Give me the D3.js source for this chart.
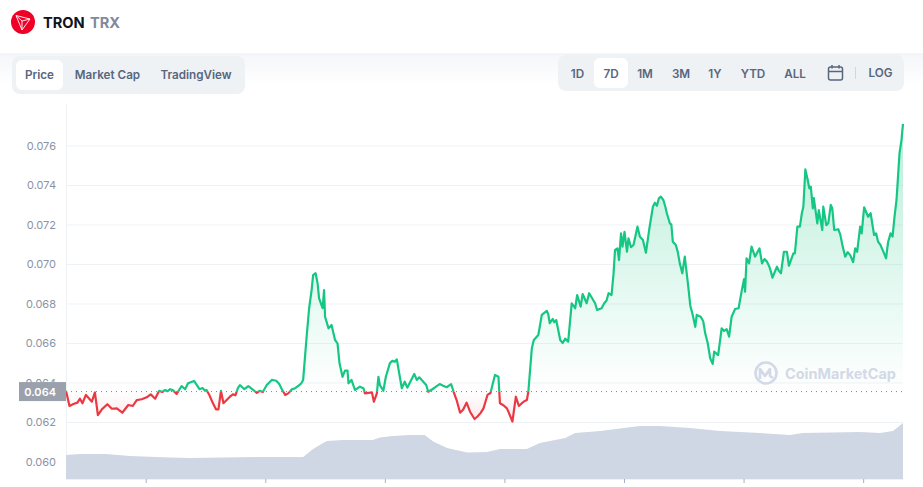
<!DOCTYPE html>
<html>
<head>
<meta charset="utf-8">
<title>TRON TRX</title>
<script src="https://cdn.jsdelivr.net/npm/d3@7"></script>
<style>
    html, body { margin: 0; padding: 0; background: #fff; overflow: hidden; }
    svg { display: block; font-family: Inter, "Noto Sans", sans-serif; }
    .btn { font-size: 11.7px; font-weight: 600; fill: #58667e; text-anchor: middle; }
    .axis text { font-size: 11px; fill: #8a93a6; font-family: Inter, sans-serif; }
    .axis .domain { stroke: #eff2f5; }
</style>
</head>
<body>
<svg id="chart" width="923" height="487"></svg>
<script>
// hours since the start of the 7 day window
const priceHours = [0,0.7,1.5,2.3,2.8,3.3,4,5.2,5.8,6.4,7.2,8.3,9.2,10.2,11.3,12.5,13.4,14.2,15.2,16.2,17,17.9,18.7,20.9,22.2,23.2,23.9,24.5,25.7,26.8,28.2,30.1,30.6,31.1,31.6,32.9,34.9,35.8,36.6,38.3,40.3,41.3,42.2,44,46,47.6,48.3,48.8,49.3,49.6,50.1,50.5,50.8,51.5,51.8,52,52.7,53.3,54,54.5,54.9,55.5,56,56.5,56.7,57.3,58,59,59.7,60,61.4,61.8,62.4,62.7,63,63.7,64.2,65,66.4,67.4,68,68.5,69.9,70.4,70.9,72.3,72.7,74.4,75.7,76.4,77.3,77.8,78.4,79.1,80.4,81.1,82,83.8,84.6,85.2,86.1,86.8,87.1,88.5,89.6,90.3,90.9,92.5,92.8,93.5,93.9,94.8,95.5,96.5,97.1,98.4,99.2,100.8,101.5,102.2,102.6,103.3,103.7,104.5,105,106.2,106.6,107.5,108.9,109.5,110.2,110.7,111,111.4,111.7,112.1,112.6,112.9,113.9,114.7,115.2,115.8,116.4,117.1,117.8,118.2,119.4,119.9,120.6,121.2,121.8,122.4,123.2,123.7,124.2,124.9,125.8,126.3,126.6,127.4,128.3,129.3,129.8,130.1,130.9,131.6,132.1,133.1,133.6,134.3,135,135.6,136.1,136.3,136.6,137.1,137.6,138.3,139.2,139.7,140.7,141.8,142.7,143.5,144.1,144.7,145.1,146,146.3,146.8,147.3,147.7,148,148.4,148.8,149.2,149.5,149.9,150.1,150.8,151.1,151.8,152,152.6,153,153.5,153.8,154.2,155,155.9,156.4,158,158.4,158.8,159.4,159.7,160.2,161,161.5,162.2,163,164.6,165.5,165.9,166.7,167.3,167.7,168];
const priceValues = [0.06358,0.06281,0.06291,0.06298,0.06318,0.06295,0.06337,0.06303,0.0635,0.06235,0.06264,0.0629,0.06267,0.06269,0.06247,0.06286,0.06281,0.06311,0.06315,0.06325,0.0634,0.06318,0.06358,0.06366,0.06342,0.06382,0.06366,0.06396,0.06408,0.06366,0.06362,0.06264,0.06264,0.06358,0.06295,0.06328,0.06387,0.06366,0.06382,0.06348,0.06387,0.06413,0.06409,0.06337,0.06371,0.06413,0.06632,0.06776,0.06868,0.06944,0.06953,0.06902,0.06826,0.06776,0.06868,0.06733,0.06674,0.06691,0.06615,0.06598,0.06497,0.06429,0.0646,0.0646,0.06396,0.06413,0.06362,0.06379,0.06371,0.06345,0.0635,0.06303,0.06345,0.06429,0.06387,0.06358,0.06429,0.06497,0.06517,0.06371,0.06404,0.06374,0.06443,0.06413,0.06426,0.06387,0.06353,0.06382,0.06384,0.06376,0.06392,0.06353,0.06311,0.06247,0.06298,0.06252,0.06215,0.06269,0.06337,0.06347,0.06438,0.06429,0.06295,0.06269,0.06202,0.06328,0.06281,0.06311,0.06353,0.06573,0.06615,0.0664,0.06742,0.06763,0.067,0.06716,0.06615,0.06607,0.06801,0.06776,0.06843,0.06784,0.06848,0.06801,0.06852,0.06801,0.06767,0.06776,0.06852,0.06843,0.07071,0.07079,0.0702,0.07155,0.07088,0.07163,0.07062,0.0713,0.07096,0.07189,0.07138,0.07121,0.07057,0.07181,0.0729,0.0731,0.07341,0.07324,0.07257,0.07206,0.07113,0.07096,0.07003,0.06953,0.07037,0.06885,0.06742,0.06682,0.06742,0.06733,0.06649,0.06523,0.06494,0.06556,0.06539,0.06674,0.06661,0.06632,0.06733,0.06772,0.06776,0.0686,0.06924,0.0686,0.07029,0.07003,0.07088,0.07037,0.07079,0.07003,0.07012,0.06931,0.06986,0.06953,0.07062,0.07062,0.06991,0.07054,0.07054,0.07189,0.07189,0.07257,0.0729,0.07479,0.07434,0.07383,0.07391,0.07282,0.07333,0.07206,0.07273,0.07172,0.0729,0.07197,0.07206,0.07299,0.07282,0.07172,0.07176,0.07088,0.07037,0.07009,0.07079,0.07062,0.07189,0.07155,0.07287,0.07239,0.07257,0.07147,0.07113,0.07029,0.07155,0.07139,0.07324,0.0756,0.07628,0.07709];
// smaller wiggles, merged into the main trace below
const wiggleHours = [19.3,19.9,20.4,21.5,27.4,27.9,28.8,29.4,33.5,34,34.5,38.9,39.5,42.8,43.4,44.6,45.3,46.7,47.2,65.5,66,73.3,73.9,75,79.7,82.6,83.2,87.8,89,91.5,92,96.8,97.7,98,99.7,100.2,108,108.5,109.9,113.4,118.6,119,120.3,121.5,122.8,125.3,127.9,128.8,132.6,140.2,141.2,141.5,143.1,155.4,156.9,157.4,162.6,163.5,164.1,165,166.3];
const wiggleValues = [0.06352,0.06362,0.06356,0.0636,0.06372,0.06358,0.06335,0.063,0.0634,0.06335,0.06372,0.06358,0.06352,0.06392,0.06362,0.06345,0.06365,0.06384,0.06395,0.0651,0.06505,0.06362,0.06372,0.06392,0.06262,0.06228,0.06245,0.06285,0.0624,0.06295,0.06305,0.06745,0.06722,0.06705,0.066,0.06622,0.068,0.06815,0.0695,0.07085,0.07295,0.07332,0.0729,0.072,0.0706,0.0679,0.0671,0.066,0.0667,0.07025,0.06985,0.0696,0.06965,0.0715,0.0706,0.07045,0.07155,0.07095,0.0706,0.0711,0.0724];
const volumeHours = [0,2.8,8,12.8,20.9,24.9,38.9,47.6,49.6,51.6,52.4,55.6,61.6,63,65.6,69,72,73.7,76.5,80.5,84.5,87.1,92.5,95.1,100.2,102.2,107.2,115.2,119.2,125.2,131.3,139.3,145.3,147.9,159.4,163.4,166,168];
const volumeValues = [1.2,1.25,1.25,1.15,1.08,1.05,1.1,1.1,1.5,1.8,1.9,1.95,1.95,2.07,2.15,2.2,2.2,1.87,1.55,1.32,1.35,1.5,1.5,1.8,2.05,2.3,2.4,2.65,2.65,2.55,2.4,2.3,2.2,2.3,2.35,2.3,2.4,2.8];
const priceTicks = [0.06,0.062,0.064,0.066,0.068,0.07,0.072,0.074,0.076];
const hourTicks = [16,40,64,88,112,136,160];
const basePrice = 0.06354;
const baseLabel = '0.064';
const tabLabels = ['Price','Market Cap','TradingView'];
const rangeLabels = ['1D','7D','1M','3M','1Y','YTD','ALL'];

const GREEN = '#16c784', RED = '#ea3943';
const plotLeft = 66, plotRight = 903, plotTop = 104, plotBottom = 479;

const priceData = d3.zip(priceHours, priceValues)
    .concat(d3.zip(wiggleHours, wiggleValues))
    .sort((a, b) => d3.ascending(a[0], b[0]));

const svg = d3.select('#chart');
const defs = svg.append('defs');

const x = d3.scaleLinear().domain([0, 168]).range([plotLeft, plotRight]);
const y = d3.scaleLinear().domain([0.059114, 0.0781]).range([plotBottom, plotTop]);
const yVol = d3.scaleLinear().domain([0, 2.85]).range([plotBottom, 422]);
const baseY = y(basePrice);
const maxY = y(d3.max(priceValues));
const minY = y(d3.min(priceValues));
const splitAt = (baseY - maxY) / (minY - maxY);

// --- header ---
const headFade = defs.append('linearGradient').attr('id', 'headFade').attr('x1', 0).attr('x2', 0).attr('y1', 0).attr('y2', 1);
headFade.append('stop').attr('offset', 0).attr('stop-color', '#f4f6f9');
headFade.append('stop').attr('offset', 1).attr('stop-color', '#fff');
svg.append('rect').attr('x', 0).attr('y', 54).attr('width', 923).attr('height', 30).attr('fill', 'url(#headFade)');
svg.append('rect').attr('x', 0).attr('y', 53.5).attr('width', 923).attr('height', 1).attr('fill', '#eceff3');

const logo = svg.append('g').attr('transform', 'translate(23,22)');
logo.append('circle').attr('r', 12).attr('fill', '#ef0027');
logo.append('path').attr('d', 'M-7,-6.5 L7,-3 L-1,8 Z M-7,-6.5 L-1,-1 L-1,8 M-1,-1 L7,-3')
    .attr('fill', 'none').attr('stroke', '#fff').attr('stroke-width', 0.9).attr('stroke-linejoin', 'round');
svg.append('text').attr('x', 43).attr('y', 27.5).attr('font-size', 14.6).attr('font-weight', 700).attr('fill', '#0d1421').text('TRON');
svg.append('text').attr('x', 90).attr('y', 27.5).attr('font-size', 14.6).attr('font-weight', 700).attr('fill', '#808a9d').text('TRX');

// --- buttons ---
svg.append('rect').attr('x', 12).attr('y', 56).attr('width', 233).attr('height', 38).attr('rx', 8).attr('fill', '#eff2f5');
svg.append('rect').attr('x', 16).attr('y', 60).attr('width', 47).attr('height', 30).attr('rx', 6).attr('fill', '#fff');
const tabX = [39.5, 107.5, 196];
tabLabels.forEach((t, i) => {
    svg.append('text').attr('class', 'btn').attr('x', tabX[i]).attr('y', 79).text(t);
});

svg.append('rect').attr('x', 558).attr('y', 55).attr('width', 346).attr('height', 36).attr('rx', 8).attr('fill', '#eff2f5');
svg.append('rect').attr('x', 594).attr('y', 58).attr('width', 34).attr('height', 30).attr('rx', 6).attr('fill', '#fff');
const rangeX = [577.5, 611, 645, 681, 715, 753, 795];
rangeLabels.forEach((t, i) => {
    svg.append('text').attr('class', 'btn').attr('x', rangeX[i]).attr('y', 78).text(t);
});
svg.append('text').attr('class', 'btn').attr('x', 880.5).attr('y', 77).text('LOG');
svg.append('rect').attr('x', 855).attr('y', 67).attr('width', 1).attr('height', 12).attr('fill', '#cfd6e4');
const cal = svg.append('g').attr('fill', 'none').attr('stroke', '#58667e').attr('stroke-width', 1.5);
cal.append('rect').attr('x', 828.5).attr('y', 67).attr('width', 14).attr('height', 13).attr('rx', 2);
cal.append('path').attr('d', 'M828.5,71.5H842.5M832,65V68.5M839,65V68.5');

// --- axes and grid ---
svg.append('g').attr('class', 'axis')
    .attr('transform', `translate(${plotLeft},0)`)
    .call(d3.axisLeft(y).tickValues(priceTicks).tickFormat(d3.format('.3f')).tickSize(-(plotRight - plotLeft)).tickSizeOuter(0).tickPadding(10))
    .call(g => g.selectAll('.tick line').attr('stroke', '#eff2f5'));

svg.append('g').attr('class', 'axis')
    .attr('transform', `translate(0,${plotBottom})`)
    .call(d3.axisBottom(x).tickValues(hourTicks).tickFormat('').tickSize(4).tickSizeOuter(0))
    .call(g => g.selectAll('.tick line').attr('stroke', '#a6b0c3'));

// --- area fill, split at the base price ---
const fillGrad = defs.append('linearGradient').attr('id', 'fillGrad').attr('gradientUnits', 'userSpaceOnUse')
    .attr('x1', 0).attr('x2', 0).attr('y1', maxY).attr('y2', minY);
fillGrad.append('stop').attr('offset', 0).attr('stop-color', GREEN).attr('stop-opacity', 0.3);
fillGrad.append('stop').attr('offset', splitAt).attr('stop-color', GREEN).attr('stop-opacity', 0);
fillGrad.append('stop').attr('offset', splitAt).attr('stop-color', RED).attr('stop-opacity', 0);
fillGrad.append('stop').attr('offset', 1).attr('stop-color', RED).attr('stop-opacity', 0.12);

const lineGrad = defs.append('linearGradient').attr('id', 'lineGrad').attr('gradientUnits', 'userSpaceOnUse')
    .attr('x1', 0).attr('x2', 0).attr('y1', maxY).attr('y2', minY);
lineGrad.append('stop').attr('offset', splitAt).attr('stop-color', GREEN);
lineGrad.append('stop').attr('offset', splitAt).attr('stop-color', RED);

const area = d3.area().x(d => x(d[0])).y0(baseY).y1(d => y(d[1]));
const line = d3.line().x(d => x(d[0])).y(d => y(d[1]));

svg.append('path').datum(priceData).attr('d', area).attr('fill', 'url(#fillGrad)');

// --- volume ---
const volArea = d3.area().x((d, i) => x(volumeHours[i])).y0(plotBottom).y1(d => yVol(d));
svg.append('path').datum(volumeValues).attr('d', volArea).attr('fill', '#cfd6e4');

// --- watermark ---
const mark = svg.append('g').attr('fill', 'none').attr('stroke', '#d3d9e6').attr('stroke-width', 2.6);
mark.append('circle').attr('cx', 766).attr('cy', 373).attr('r', 10.5);
mark.append('path').attr('d', 'M760,379V369L765,376L770,369V376L773,378').attr('stroke-linejoin', 'round');
svg.append('text').attr('x', 785).attr('y', 379).attr('font-size', 14.5).attr('font-weight', 700)
    .attr('fill', '#d3d9e6').text('CoinMarketCap');

// --- base line and price line ---
svg.append('line').attr('x1', plotLeft).attr('x2', plotRight).attr('y1', baseY).attr('y2', baseY)
    .attr('stroke', '#80838a').attr('stroke-width', 1).attr('stroke-dasharray', '1 4');

svg.append('path').datum(priceData).attr('d', line).attr('fill', 'none')
    .attr('stroke', 'url(#lineGrad)').attr('stroke-width', 2.2).attr('stroke-linejoin', 'round');

svg.append('rect').attr('x', 19).attr('y', baseY - 9.5).attr('width', 47).attr('height', 19).attr('fill', '#9aa0ac');
svg.append('text').attr('x', 56).attr('y', baseY + 4).attr('text-anchor', 'end').attr('font-size', 11)
    .attr('font-weight', 600).attr('fill', '#fff').text(baseLabel);
</script>
</body>
</html>
